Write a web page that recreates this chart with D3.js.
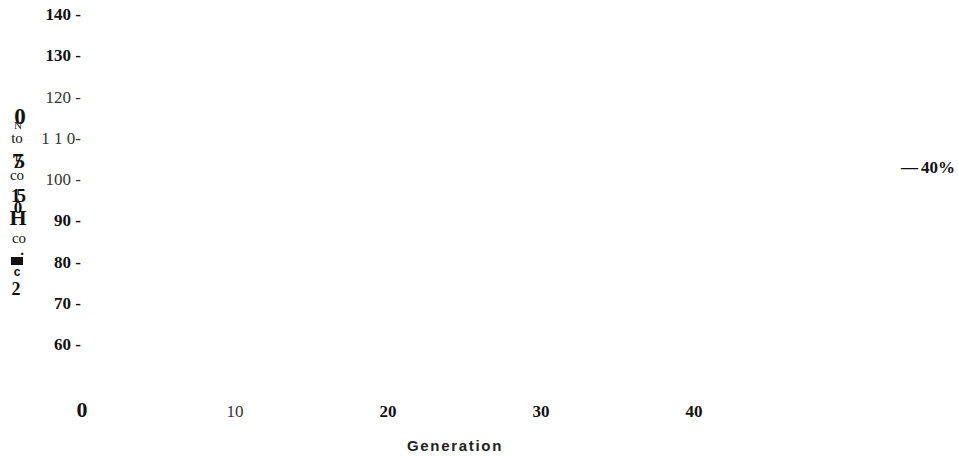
<!DOCTYPE html>
<html>
<head>
<meta charset="utf-8">
<script src="https://cdn.jsdelivr.net/npm/d3@7"></script>
<style>
  html, body { margin: 0; padding: 0; background: #fff; }
  svg { display: block; }
</style>
</head>
<body>
<svg id="chart" width="958" height="456"></svg>
<script>
// ---- data ----
const yTicks = [140, 130, 120, 110, 100, 90, 80, 70, 60];
const yTickLabels = ["140 -", "130 -", "120 -", "1 1 0-", "100 -", "90 -", "80 -", "70 -", "60 -"];
const yTickBold = [true, true, false, false, false, true, true, true, true];
const xTicks = [0, 10, 20, 30, 40];
const xTickLabels = ["0", "10", "20", "30", "40"];
const xTickBold = [true, false, true, true, true];
const xTitle = "Generation";
const legendLabels = ["40%"];
// garbled (scanned) y-axis title, as clusters of overlapping glyphs, top to bottom
const yTitleClusters = [["0", "N"], ["to"], ["75"], ["co"], ["15", "0", "H"], ["co"], ["."], ["c"], ["2"]];

// ---- layout ----
const svg = d3.select("#chart");
const serif = "'Liberation Serif', 'Times New Roman', serif";
const sans = "'Liberation Sans', Arial, sans-serif";

const x = d3.scaleLinear().domain([0, 40]).range([82, 694]);
const y = d3.scaleLinear().domain([60, 140]).range([350, 20]);

// y tick labels
svg.append("g").selectAll("text")
  .data(yTicks)
  .join("text")
  .attr("x", 81)
  .attr("y", d => y(d))
  .attr("text-anchor", "end")
  .attr("font-family", serif)
  .attr("font-size", 17)
  .attr("font-weight", (d, i) => yTickBold[i] ? "bold" : "normal")
  .attr("fill", (d, i) => yTickBold[i] ? "#111" : "#333")
  .text((d, i) => yTickLabels[i]);

// x tick labels
svg.append("g").selectAll("text")
  .data(xTicks)
  .join("text")
  .attr("x", d => x(d))
  .attr("y", 417)
  .attr("text-anchor", "middle")
  .attr("font-family", serif)
  .attr("font-size", (d, i) => i === 0 ? 22 : 17)
  .attr("font-weight", (d, i) => xTickBold[i] ? "bold" : "normal")
  .attr("fill", (d, i) => xTickBold[i] ? "#111" : "#333")
  .text((d, i) => xTickLabels[i]);

// x title
svg.append("text")
  .attr("x", 455)
  .attr("y", 451)
  .attr("text-anchor", "middle")
  .attr("font-family", sans)
  .attr("font-size", 15)
  .attr("font-weight", "bold")
  .attr("letter-spacing", 1.7)
  .attr("fill", "#222")
  .text(xTitle);

// legend
const leg = svg.append("g").attr("transform", "translate(901,173)");
legendLabels.forEach((lab, i) => {
  const t = leg.append("text")
    .attr("x", 0).attr("y", i * 20)
    .attr("font-family", serif)
    .attr("font-size", 17)
    .attr("font-weight", "bold")
    .attr("fill", "#111");
  t.append("tspan").text("\u2014");
  t.append("tspan").attr("dx", 3).text(lab);
});

// garbled y title glyph styles (one entry per glyph run in each cluster)
const clusterStyle = [
  [{x: 20, y: 124, s: 23, w: "bold", f: serif, a: "middle"}, {x: 18, y: 129, s: 11, w: "normal", f: serif, a: "middle"}],
  [{x: 17, y: 143, s: 15, w: "normal", f: serif, a: "middle"}],
  [{x: 12, y: 168, s: 21, w: "bold", f: serif, a: "start", ls: -8}],
  [{x: 17, y: 180, s: 15, w: "normal", f: serif, a: "middle"}],
  [{x: 11, y: 202, s: 19, w: "bold", f: serif, a: "start", ls: -4},
   {x: 18, y: 213, s: 17, w: "bold", f: serif, a: "middle"},
   {x: 18, y: 225, s: 22, w: "bold", f: serif, a: "middle"}],
  [{x: 19, y: 243, s: 15, w: "normal", f: serif, a: "middle"}],
  [{x: 22, y: 255, s: 15, w: "bold", f: serif, a: "middle"}],
  [{x: 17, y: 276, s: 12, w: "bold", f: sans, a: "middle"}],
  [{x: 16, y: 295, s: 18, w: "bold", f: serif, a: "middle"}]
];
const gT = svg.append("g").attr("fill", "#111");
yTitleClusters.forEach((cluster, ci) => {
  const t = gT.append("text");
  cluster.forEach((g, gi) => {
    const st = clusterStyle[ci][gi];
    t.append("tspan")
      .attr("x", st.x).attr("y", st.y)
      .attr("text-anchor", st.a)
      .attr("font-family", st.f)
      .attr("font-size", st.s)
      .attr("font-weight", st.w)
      .attr("letter-spacing", st.ls || 0)
      .text(g);
  });
});
// the solid block in the scanned title
gT.append("rect").attr("x", 11).attr("y", 257).attr("width", 12).attr("height", 8);
</script>
</body>
</html>
